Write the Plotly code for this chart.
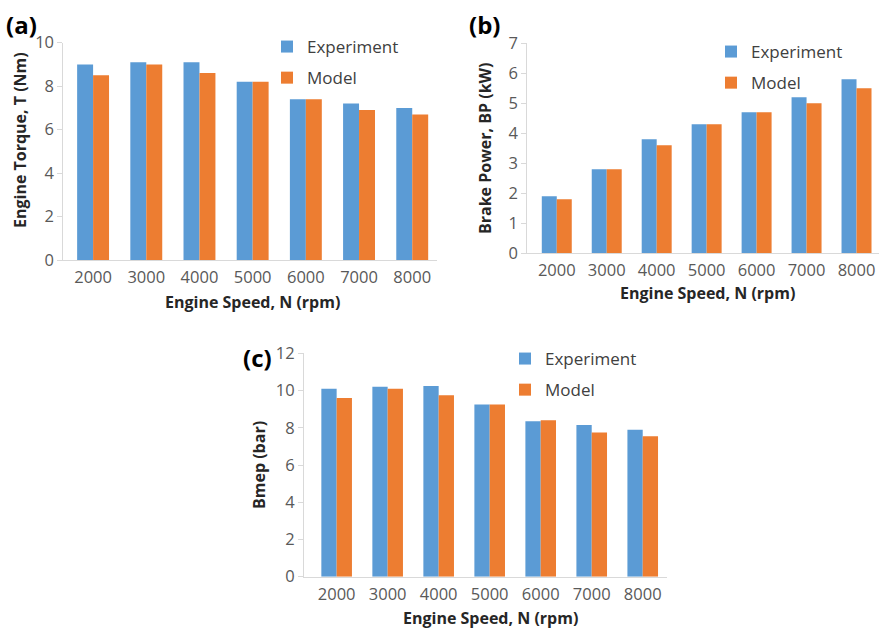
import plotly.graph_objects as go

# ---------------- data ----------------
speeds = ["2000", "3000", "4000", "5000", "6000", "7000", "8000"]
series_names = ["Experiment", "Model"]
torque_exp = [9.0, 9.1, 9.1, 8.2, 7.4, 7.2, 7.0]
torque_model = [8.5, 9.0, 8.6, 8.2, 7.4, 6.9, 6.7]
bp_exp = [1.9, 2.8, 3.8, 4.3, 4.7, 5.2, 5.8]
bp_model = [1.8, 2.8, 3.6, 4.3, 4.7, 5.0, 5.5]
bmep_exp = [10.1, 10.2, 10.25, 9.25, 8.35, 8.15, 7.9]
bmep_model = [9.6, 10.1, 9.75, 9.25, 8.4, 7.75, 7.55]
panel_labels = ["(a)", "(b)", "(c)"]
y_titles = ["Engine Torque, T (Nm)", "Brake Power, BP (kW)", "Bmep (bar)"]
x_title = "Engine Speed, N (rpm)"

# ---------------- style ----------------
W, H = 879, 631
BLUE = "#5B9BD5"
ORANGE = "#ED7D31"
TICK_COL = "#595959"
TITLE_COL = "#262626"
LEG_COL = "#404040"
LINE_COL = "#D9D9D9"
FONT = "Open Sans"


def px(x):
    return x / W


def py(y):
    return 1 - y / H


fig = go.Figure()

panels = [
    dict(xa="x", ya="y", exp=torque_exp, mod=torque_model, legend="legend"),
    dict(xa="x2", ya="y2", exp=bp_exp, mod=bp_model, legend="legend2"),
    dict(xa="x3", ya="y3", exp=bmep_exp, mod=bmep_model, legend="legend3"),
]

for i, p in enumerate(panels):
    for name, vals, col in [(series_names[0], p["exp"], BLUE), (series_names[1], p["mod"], ORANGE)]:
        fig.add_trace(go.Bar(
            x=speeds, y=vals, name=name, marker=dict(color=col, line=dict(width=0)),
            xaxis=p["xa"], yaxis=p["ya"], legend=p["legend"],
            legendgroup=f"{i}{name}", showlegend=True,
        ))

tickfont = dict(family=FONT, size=16.5, color=TICK_COL)


def xax(dom, rng, anchor):
    return dict(domain=dom, range=rng, type="category", anchor=anchor, automargin=False,
                showline=True, linecolor=LINE_COL, linewidth=1,
                showgrid=False, zeroline=False, ticks="", tickfont=tickfont,
                ticklabelstandoff=2, fixedrange=True)


def yax(dom, rng, dtick, anchor):
    return dict(domain=dom, range=rng, dtick=dtick, anchor=anchor, automargin=False,
                showline=True, linecolor=LINE_COL, linewidth=1,
                showgrid=False, zeroline=False, ticks="outside", ticklen=5,
                tickcolor=LINE_COL, tickfont=tickfont, fixedrange=True)


legend_common = dict(xanchor="left", yanchor="top", bgcolor="rgba(0,0,0,0)",
                     font=dict(family=FONT, size=17, color=LEG_COL),
                     traceorder="grouped", tracegroupgap=6, itemclick=False)

fig.update_layout(
    width=W, height=H,
    margin=dict(l=0, r=0, t=0, b=0, pad=0, autoexpand=False),
    paper_bgcolor="white", plot_bgcolor="white",
    barmode="group", bargap=0.4, bargroupgap=0,
    font=dict(family=FONT),
    hovermode=False,
    xaxis=xax([px(63.3), px(436.7)], [-0.56, 6.46], "y"),
    yaxis=yax([py(260), py(42.7)], [0, 10], 2, "x"),
    xaxis2=xax([px(527.3), 1.0], [-0.59, 6.45], "y2"),
    yaxis2=yax([py(253.3), py(43.3)], [0, 7], 1, "x2"),
    xaxis3=xax([px(304), px(666.7)], [-0.64, 6.47], "y3"),
    yaxis3=yax([py(576.7), py(353.3)], [0, 12], 2, "x3"),
    legend=dict(x=px(267), y=py(29), **legend_common),
    legend2=dict(x=px(711), y=py(34), **legend_common),
    legend3=dict(x=px(505), y=py(341), **legend_common),
)

annots = []
# panel labels
for lbl, (x, y) in zip(panel_labels, [(21, 24), (485, 24), (257, 357)]):
    annots.append(dict(text=f"<b>{lbl}</b>", x=px(x), y=py(y), xref="paper", yref="paper",
                       showarrow=False, xanchor="center", yanchor="middle",
                       font=dict(family=FONT, size=24, color="black")))
# y titles
for t, (x, y) in zip(y_titles, [(20, 140), (485, 148), (259, 465)]):
    annots.append(dict(text=f"<b>{t}</b>", x=px(x), y=py(y), xref="paper", yref="paper",
                       showarrow=False, textangle=-90, xanchor="center", yanchor="middle",
                       font=dict(family=FONT, size=16, color=TITLE_COL)))
# x titles
for (x, y) in [(252, 302), (707, 293), (490, 618)]:
    annots.append(dict(text=f"<b>{x_title}</b>", x=px(x), y=py(y), xref="paper", yref="paper",
                       showarrow=False, xanchor="center", yanchor="middle",
                       font=dict(family=FONT, size=16, color=TITLE_COL)))
fig.update_layout(annotations=annots)

fig.write_html("out.html", config={"displayModeBar": False},
               post_script="document.body.style.margin='0';")
